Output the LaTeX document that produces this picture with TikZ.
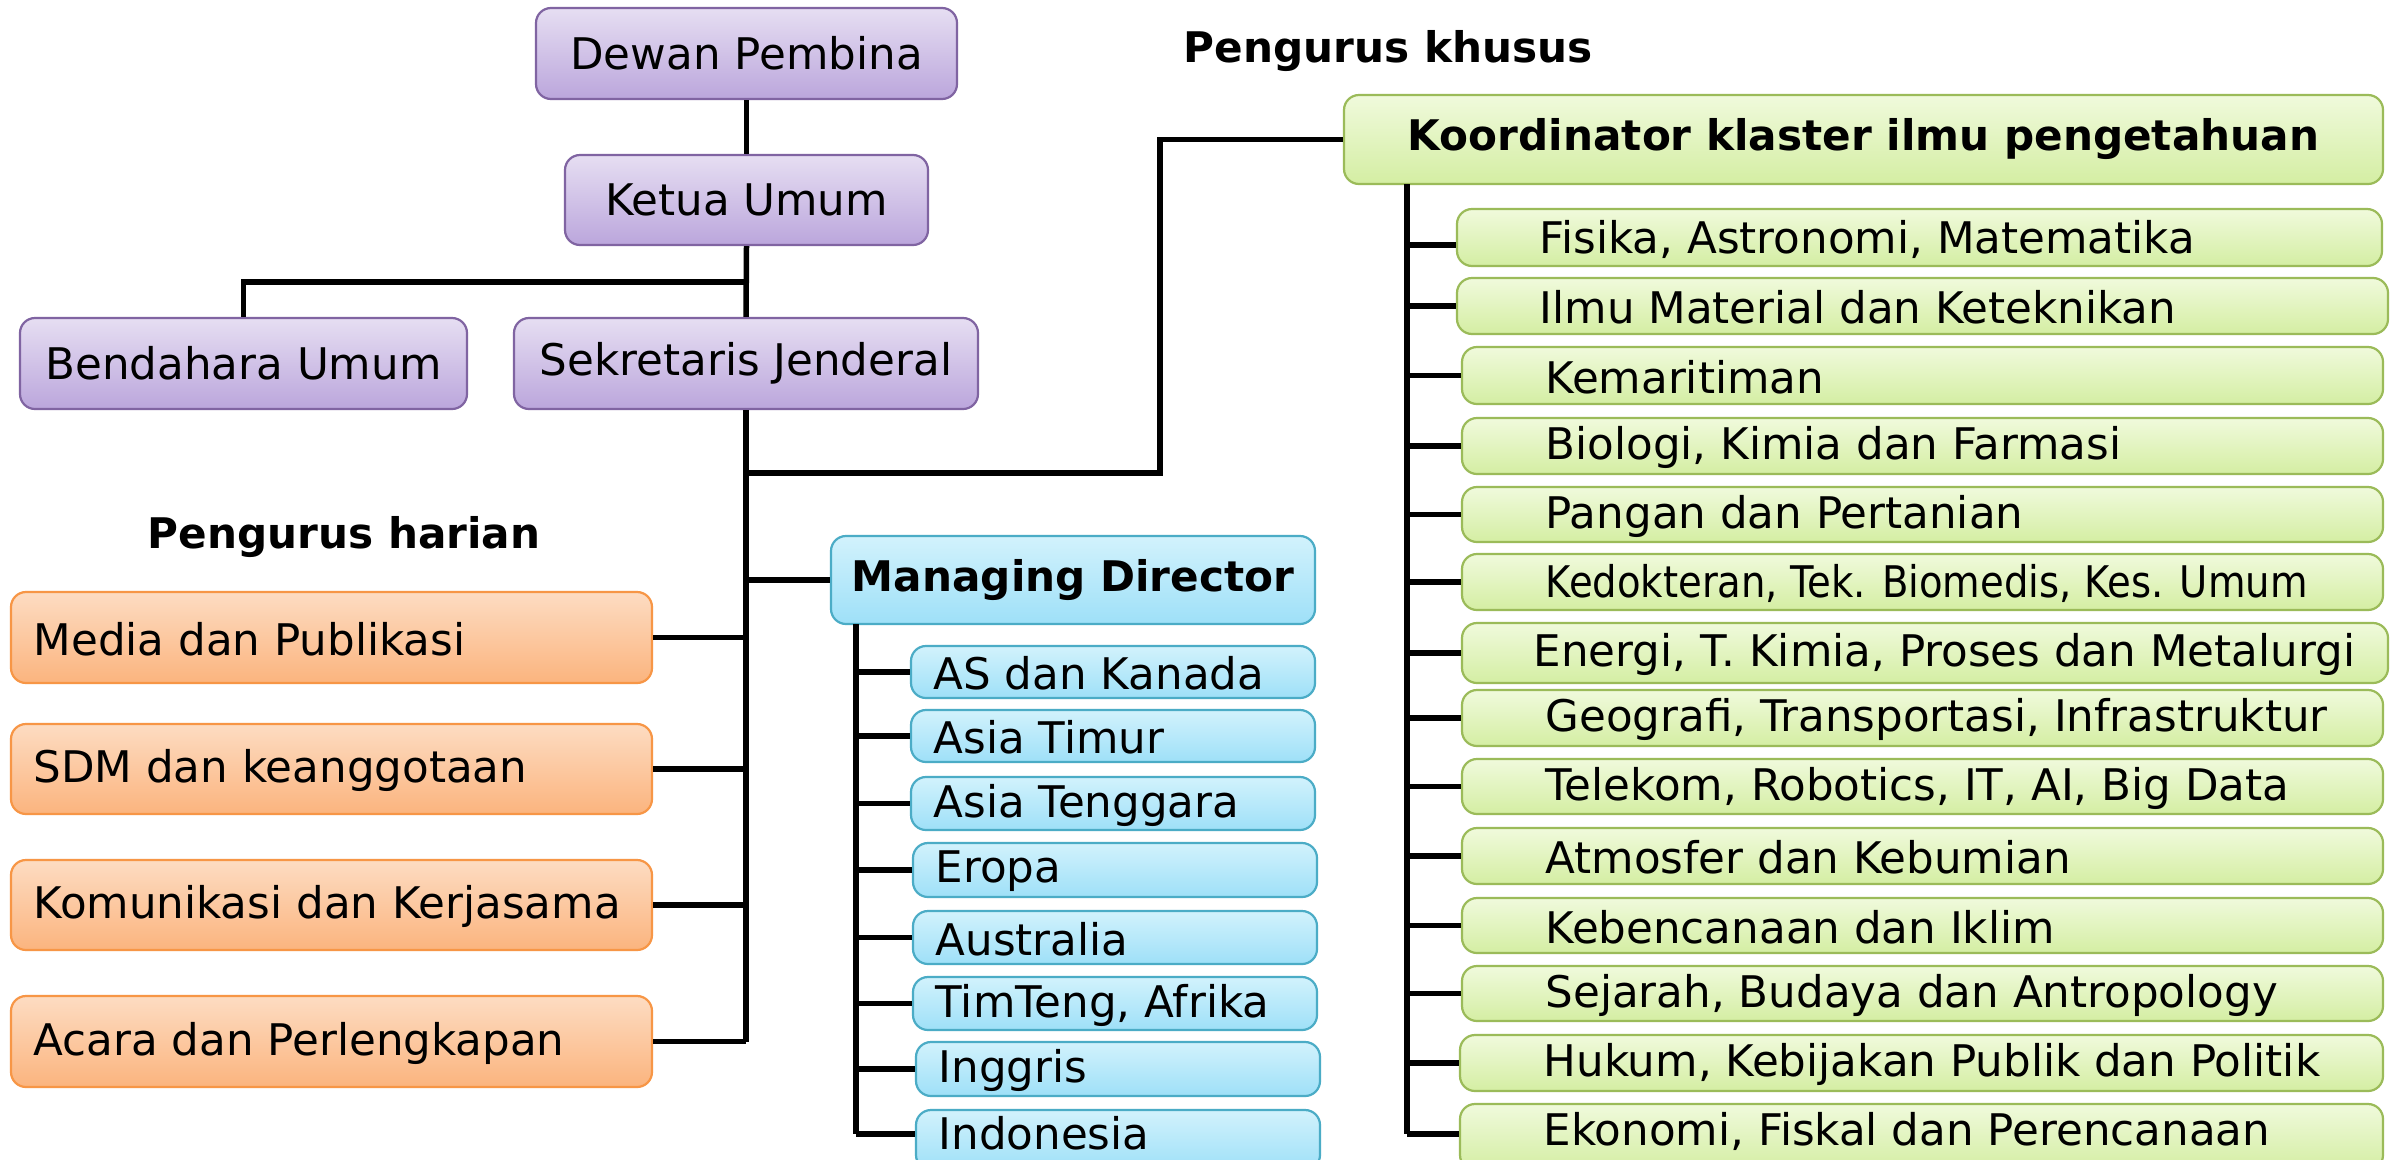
\documentclass[tikz,border=0pt]{standalone}
\usepackage{fontspec}
\setmainfont{DejaVu Sans}
\begin{document}
\begin{tikzpicture}[x=0.1mm,y=-0.1mm,
  boxbase/.style={rectangle, rounded corners=1.5mm, line width=0.22mm, inner sep=0pt, font=\fontsize{12.4}{14}\selectfont},
  purp/.style={boxbase, draw={rgb,255:red,128;green,100;blue,162}, top color={rgb,255:red,230;green,222;blue,242}, bottom color={rgb,255:red,187;green,166;blue,220}},
  oran/.style={boxbase, draw={rgb,255:red,247;green,150;blue,70}, top color={rgb,255:red,253;green,220;blue,194}, bottom color={rgb,255:red,251;green,180;blue,126}},
  blu/.style={boxbase, draw={rgb,255:red,75;green,172;blue,198}, top color={rgb,255:red,210;green,242;blue,252}, bottom color={rgb,255:red,158;green,224;blue,248}},
  grn/.style={boxbase, draw={rgb,255:red,155;green,187;blue,89}, top color={rgb,255:red,240;green,250;blue,220}, bottom color={rgb,255:red,212;green,238;blue,163}},
  txt/.style={inner sep=0pt, font=\fontsize{12.4}{14}\selectfont},
  hdr/.style={inner sep=0pt, font=\fontsize{12}{14}\selectfont\bfseries},
  conn/.style={line width=0.55mm, draw=black}
]
\newcommand\cbox[7]{\node[#2, minimum width={(#5-#3)*0.1mm}, minimum height={(#6-#4)*0.1mm}] (#1) at ({(#3+#5)/2},{(#4+#6)/2}) {#7};}
\newcommand\lbox[8]{\node[#2, minimum width={(#5-#3)*0.1mm}, minimum height={(#6-#4)*0.1mm}] (#1) at ({(#3+#5)/2},{(#4+#6)/2}) {};
  \node[txt, anchor=west] (#1t) at ([xshift=#7*0.1mm, yshift=-0.15mm]#1.west) {#8};}
\clip (0,0) rectangle (2400,1159);
\fill[white] (0,0) rectangle (2400,1159);

% headers
\node[hdr] (hk) at (1388,51) {Pengurus khusus};
\node[hdr] (hh) at (344,537) {Pengurus harian};

% purple
\cbox{dewan}{purp}{536}{8}{957}{99}{Dewan Pembina}
\cbox{ketua}{purp}{565}{155}{928}{245}{Ketua Umum}
\cbox{bend}{purp}{20}{318}{467}{409}{Bendahara Umum}
\cbox{sekjen}{purp}{514}{318}{978}{409}{Sekretaris Jenderal}

% orange
\lbox{o1}{oran}{11}{592}{652}{683}{23}{Media dan Publikasi}
\lbox{o2}{oran}{11}{724}{652}{814}{23}{SDM dan keanggotaan}
\lbox{o3}{oran}{11}{860}{652}{950}{23}{Komunikasi dan Kerjasama}
\lbox{o4}{oran}{11}{996}{652}{1087}{23}{Acara dan Perlengkapan}

% managing director
\cbox{md}{blu, font=\fontsize{12}{14}\selectfont\bfseries}{831}{536}{1315}{624}{Managing Director}
\lbox{m1}{blu}{911}{646}{1315}{698}{23}{AS dan Kanada}
\lbox{m2}{blu}{911}{710}{1315}{762}{23}{Asia Timur}
\lbox{m3}{blu}{911}{777}{1315}{830}{23}{Asia Tenggara}
\lbox{m4}{blu}{913}{843}{1317}{897}{23}{Eropa}
\lbox{m5}{blu}{913}{911}{1317}{964}{23}{Australia}
\lbox{m6}{blu}{913}{977}{1317}{1030}{23}{TimTeng, Afrika}
\lbox{m7}{blu}{916}{1042}{1320}{1096}{23}{Inggris}
\node[blu, minimum width=40.4mm, minimum height=6mm] (m8) at (1118,1140) {};
\node[txt, anchor=west] (m8t) at ([xshift=2.3mm]m8.west |- 0,1133) {Indonesia};

% koordinator
\cbox{ko}{grn, font=\fontsize{12}{14}\selectfont\bfseries}{1344}{95}{2383}{184}{Koordinator klaster ilmu pengetahuan}
\lbox{g1}{grn}{1457}{209}{2382}{266}{83}{Fisika, Astronomi, Matematika}
\lbox{g2}{grn}{1457}{278}{2388}{334}{83}{Ilmu Material dan Keteknikan}
\lbox{g3}{grn}{1462}{347}{2383}{404}{84}{Kemaritiman}
\lbox{g4}{grn}{1462}{418}{2383}{474}{84}{Biologi, Kimia dan Farmasi}
\lbox{g5}{grn}{1462}{487}{2383}{542}{84}{Pangan dan Pertanian}
\lbox{g6}{grn}{1462}{554}{2383}{610}{84}{\scalebox{0.885}[1]{Kedokteran, Tek. Biomedis, Kes. Umum}}
\lbox{g7}{grn}{1462}{623}{2388}{683}{72}{Energi, T. Kimia, Proses dan Metalurgi}
\lbox{g8}{grn}{1462}{690}{2383}{746}{84}{Geografi, Transportasi, Infrastruktur}
\lbox{g9}{grn}{1462}{759}{2383}{814}{84}{Telekom, Robotics, IT, AI, Big Data}
\lbox{g10}{grn}{1462}{828}{2383}{884}{84}{Atmosfer dan Kebumian}
\lbox{g11}{grn}{1462}{898}{2383}{953}{84}{Kebencanaan dan Iklim}
\lbox{g12}{grn}{1462}{966}{2383}{1021}{84}{Sejarah, Budaya dan Antropology}
\lbox{g13}{grn}{1460}{1035}{2383}{1091}{84}{Hukum, Kebijakan Publik dan Politik}
\node[grn, minimum width=92.3mm, minimum height=6.6mm] (g14) at (1921.5,1137) {};
\node[txt, anchor=west] (g14t) at ([xshift=8.4mm]g14.west |- 0,1131) {Ekonomi, Fiskal dan Perencanaan};

% connectors
\coordinate (j1) at (746,282);
\coordinate (sbot) at (746,1042);
\coordinate (k1) at (746,473);
\coordinate (k2) at (1160,473);
\coordinate (jm) at (746,580);
\coordinate (mtop) at (856,624);
\coordinate (mbot) at (856,1134);
\coordinate (gtop) at (1407,184);
\coordinate (gbot) at (1407,1134);

\draw[conn] (dewan.south) -- (ketua.north);
\draw[conn] (ketua.south) -- (sekjen.north);
\draw[conn] (j1) -| (bend.north);
\draw[conn] (sekjen.south) -- (sbot);
\draw[conn] (k1) -- (k2) |- (ko.west);
\draw[conn] (jm) -- (md.west);
\foreach \o in {o1,o2,o3,o4} { \draw[conn] (\o.east) -- (\o.east -| sbot); }
\draw[conn] (mtop) -- (mbot);
\foreach \m in {m1,m2,m3,m4,m5,m6,m7} { \draw[conn] (\m.west -| mtop) -- (\m.west); }
\draw[conn] (mbot) -- (mbot -| m8.west);
\draw[conn] (gtop) -- (gbot);
\foreach \g in {g2,g3,g4,g5,g6,g7,g8,g9,g10,g11,g12,g13} { \draw[conn] (\g.west -| gtop) -- (\g.west); }
\draw[conn] (1407,245) -- (1407,245 -| g1.west);
\draw[conn] (gbot) -- (gbot -| g14.west);
\end{tikzpicture}
\end{document}
